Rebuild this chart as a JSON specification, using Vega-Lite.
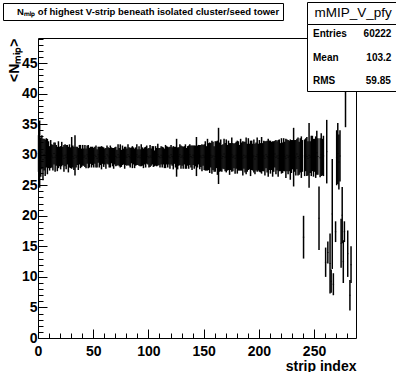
{
  "$schema": "https://vega.github.io/schema/vega-lite/v6.json",
  "width": 318,
  "height": 300,
  "autosize": {"type": "none"},
  "padding": {"left": 38, "top": 38, "right": 40, "bottom": 34},
  "background": "white",
  "config": {"view": {"stroke": "black", "strokeWidth": 1}},
  "datasets": {
    "prof": [
      {"x":0.5,"y":30.2,"e":3.0},{"x":1.5,"y":30.1,"e":5.5},{"x":2.5,"y":29.6,"e":3.2},{"x":3.5,"y":30.4,"e":2.8},{"x":4.5,"y":29.2,"e":3.4},
      {"x":5.5,"y":30.0,"e":2.6},{"x":6.5,"y":29.5,"e":3.0},{"x":7.5,"y":30.3,"e":2.4},{"x":8.5,"y":29.7,"e":2.9},{"x":9.5,"y":30.0,"e":2.2},
      {"x":10.5,"y":29.4,"e":2.0},{"x":11.5,"y":30.1,"e":2.3},{"x":12.5,"y":29.8,"e":1.9},{"x":13.5,"y":29.5,"e":2.1},{"x":14.5,"y":30.2,"e":1.8},
      {"x":15.5,"y":29.6,"e":2.4},{"x":16.5,"y":29.9,"e":1.7},{"x":17.5,"y":29.3,"e":2.0},{"x":18.5,"y":30.0,"e":2.2},{"x":19.5,"y":29.7,"e":1.6},
      {"x":20.5,"y":29.5,"e":1.9},{"x":21.5,"y":30.1,"e":2.0},{"x":22.5,"y":29.8,"e":1.5},{"x":23.5,"y":29.4,"e":2.2},{"x":24.5,"y":29.9,"e":1.8},
      {"x":25.5,"y":29.6,"e":2.0},{"x":26.5,"y":30.0,"e":1.6},{"x":27.5,"y":29.2,"e":2.1},{"x":28.5,"y":29.8,"e":1.9},{"x":29.5,"y":29.5,"e":1.7},
      {"x":30.5,"y":30.3,"e":2.6},{"x":31.5,"y":29.7,"e":1.8},{"x":32.5,"y":29.4,"e":1.9},{"x":33.5,"y":29.9,"e":3.3},{"x":34.5,"y":29.6,"e":1.7},
      {"x":35.5,"y":29.8,"e":1.5},{"x":36.5,"y":29.3,"e":1.8},{"x":37.5,"y":30.0,"e":1.6},{"x":38.5,"y":29.7,"e":1.9},{"x":39.5,"y":29.5,"e":1.5},
      {"x":40.5,"y":29.9,"e":1.7},{"x":41.5,"y":29.6,"e":1.4},{"x":42.5,"y":29.8,"e":1.8},{"x":43.5,"y":29.4,"e":1.6},{"x":44.5,"y":30.0,"e":1.5},
      {"x":45.5,"y":29.7,"e":1.9},{"x":46.5,"y":29.5,"e":1.6},{"x":47.5,"y":29.9,"e":1.4},{"x":48.5,"y":29.6,"e":1.7},{"x":49.5,"y":29.8,"e":1.5},
      {"x":50.5,"y":29.5,"e":1.6},{"x":51.5,"y":29.9,"e":1.4},{"x":52.5,"y":29.7,"e":1.8},{"x":53.5,"y":29.4,"e":1.5},{"x":54.5,"y":30.0,"e":1.3},
      {"x":55.5,"y":29.6,"e":1.7},{"x":56.5,"y":29.8,"e":1.5},{"x":57.5,"y":29.5,"e":1.9},{"x":58.5,"y":29.9,"e":1.4},{"x":59.5,"y":29.6,"e":1.6},
      {"x":60.5,"y":29.7,"e":1.3},{"x":61.5,"y":29.4,"e":1.7},{"x":62.5,"y":30.0,"e":1.5},{"x":63.5,"y":29.8,"e":1.4},{"x":64.5,"y":29.5,"e":1.6},
      {"x":65.5,"y":29.7,"e":1.8},{"x":66.5,"y":29.9,"e":1.3},{"x":67.5,"y":29.6,"e":1.5},{"x":68.5,"y":29.4,"e":1.7},{"x":69.5,"y":29.8,"e":1.4},
      {"x":70.5,"y":29.7,"e":1.6},{"x":71.5,"y":29.5,"e":1.3},{"x":72.5,"y":30.0,"e":1.7},{"x":73.5,"y":29.6,"e":1.5},{"x":74.5,"y":29.8,"e":1.9},
      {"x":75.5,"y":29.4,"e":1.4},{"x":76.5,"y":29.9,"e":1.6},{"x":77.5,"y":29.7,"e":1.3},{"x":78.5,"y":29.5,"e":1.8},{"x":79.5,"y":29.8,"e":1.5},
      {"x":80.5,"y":29.6,"e":1.4},{"x":81.5,"y":30.0,"e":1.7},{"x":82.5,"y":29.7,"e":1.5},{"x":83.5,"y":29.5,"e":1.6},{"x":84.5,"y":29.9,"e":1.3},
      {"x":85.5,"y":29.6,"e":1.8},{"x":86.5,"y":29.8,"e":1.4},{"x":87.5,"y":29.4,"e":1.6},{"x":88.5,"y":29.7,"e":1.5},{"x":89.5,"y":30.0,"e":1.7},
      {"x":90.5,"y":29.6,"e":1.3},{"x":91.5,"y":29.8,"e":1.6},{"x":92.5,"y":29.5,"e":1.4},{"x":93.5,"y":29.9,"e":1.8},{"x":94.5,"y":29.7,"e":1.5},
      {"x":95.5,"y":29.4,"e":1.6},{"x":96.5,"y":29.8,"e":1.4},{"x":97.5,"y":29.6,"e":1.7},{"x":98.5,"y":30.0,"e":1.5},{"x":99.5,"y":29.7,"e":1.3},
      {"x":100.5,"y":29.5,"e":1.6},{"x":101.5,"y":29.8,"e":1.8},{"x":102.5,"y":29.6,"e":1.4},{"x":103.5,"y":29.9,"e":1.5},{"x":104.5,"y":29.7,"e":1.7},
      {"x":105.5,"y":29.4,"e":1.3},{"x":106.5,"y":29.8,"e":1.6},{"x":107.5,"y":29.6,"e":1.5},{"x":108.5,"y":30.0,"e":1.8},{"x":109.5,"y":29.7,"e":1.4},
      {"x":110.5,"y":29.5,"e":1.6},{"x":111.5,"y":29.9,"e":1.5},{"x":112.5,"y":29.6,"e":1.7},{"x":113.5,"y":29.8,"e":1.4},{"x":114.5,"y":29.4,"e":1.6},
      {"x":115.5,"y":29.7,"e":1.9},{"x":116.5,"y":29.9,"e":1.5},{"x":117.5,"y":29.6,"e":1.7},{"x":118.5,"y":29.8,"e":1.4},{"x":119.5,"y":29.5,"e":1.8},
      {"x":120.5,"y":30.0,"e":1.6},{"x":121.5,"y":29.7,"e":1.5},{"x":122.5,"y":29.5,"e":1.9},{"x":123.5,"y":29.9,"e":1.4},{"x":124.5,"y":29.6,"e":1.7},
      {"x":125.5,"y":29.5,"e":3.1},{"x":126.5,"y":29.4,"e":1.8},{"x":127.5,"y":29.7,"e":1.5},{"x":128.5,"y":30.0,"e":1.7},{"x":129.5,"y":29.6,"e":1.9},
      {"x":130.5,"y":29.8,"e":1.6},{"x":131.5,"y":29.5,"e":1.8},{"x":132.5,"y":29.9,"e":1.5},{"x":133.5,"y":29.7,"e":2.0},{"x":134.5,"y":29.4,"e":1.7},
      {"x":135.5,"y":29.8,"e":1.6},{"x":136.5,"y":29.6,"e":1.9},{"x":137.5,"y":30.0,"e":1.7},{"x":138.5,"y":29.7,"e":1.8},{"x":139.5,"y":29.5,"e":2.0},
      {"x":140.5,"y":29.9,"e":1.6},{"x":141.5,"y":29.6,"e":1.9},{"x":142.5,"y":29.8,"e":1.7},{"x":143.5,"y":29.7,"e":3.2},{"x":144.5,"y":29.7,"e":1.8},
      {"x":145.5,"y":30.0,"e":1.6},{"x":146.5,"y":29.6,"e":2.0},{"x":147.5,"y":29.8,"e":1.8},{"x":148.5,"y":29.5,"e":2.2},{"x":149.5,"y":29.9,"e":1.7},
      {"x":150.5,"y":29.6,"e":2.1},{"x":151.5,"y":29.8,"e":2.4},{"x":152.5,"y":29.4,"e":2.0},{"x":153.5,"y":30.0,"e":2.6},{"x":154.5,"y":29.7,"e":2.2},
      {"x":155.5,"y":29.5,"e":2.5},{"x":156.5,"y":29.9,"e":2.0},{"x":157.5,"y":29.6,"e":2.7},{"x":158.5,"y":29.8,"e":2.3},{"x":159.5,"y":29.3,"e":2.1},
      {"x":160.5,"y":29.7,"e":2.5},{"x":161.5,"y":30.0,"e":2.2},{"x":162.5,"y":29.5,"e":2.8},{"x":163.5,"y":29.8,"e":4.6},{"x":164.5,"y":29.6,"e":2.4},
      {"x":165.5,"y":29.9,"e":2.6},{"x":166.5,"y":29.4,"e":2.2},{"x":167.5,"y":29.7,"e":2.0},{"x":168.5,"y":30.1,"e":2.5},{"x":169.5,"y":29.6,"e":2.3},
      {"x":170.5,"y":29.8,"e":2.7},{"x":171.5,"y":29.5,"e":2.1},{"x":172.5,"y":29.9,"e":2.4},{"x":173.5,"y":29.3,"e":2.6},{"x":174.5,"y":29.7,"e":2.2},
      {"x":175.5,"y":30.0,"e":2.8},{"x":176.5,"y":29.6,"e":2.3},{"x":177.5,"y":29.8,"e":2.0},{"x":178.5,"y":29.4,"e":2.5},{"x":179.5,"y":29.9,"e":2.2},
      {"x":180.5,"y":29.6,"e":2.7},{"x":181.5,"y":29.8,"e":2.4},{"x":182.5,"y":29.5,"e":2.1},{"x":183.5,"y":30.0,"e":2.6},{"x":184.5,"y":29.7,"e":2.3},
      {"x":185.5,"y":29.4,"e":2.8},{"x":186.5,"y":29.9,"e":2.2},{"x":187.5,"y":29.6,"e":2.5},{"x":188.5,"y":29.8,"e":3.0},{"x":189.5,"y":29.5,"e":2.3},
      {"x":190.5,"y":30.1,"e":2.6},{"x":191.5,"y":29.7,"e":2.1},{"x":192.5,"y":29.4,"e":2.9},{"x":193.5,"y":29.9,"e":2.4},{"x":194.5,"y":29.6,"e":2.2},
      {"x":195.5,"y":29.8,"e":2.7},{"x":196.5,"y":29.3,"e":2.5},{"x":197.5,"y":29.7,"e":2.3},{"x":198.5,"y":30.0,"e":2.8},{"x":199.5,"y":29.6,"e":2.2},
      {"x":200.5,"y":29.8,"e":2.6},{"x":201.5,"y":29.5,"e":2.4},{"x":202.5,"y":29.9,"e":3.0},{"x":203.5,"y":29.6,"e":2.3},{"x":204.5,"y":29.8,"e":2.5},
      {"x":205.5,"y":29.4,"e":2.8},{"x":206.5,"y":30.0,"e":2.2},{"x":207.5,"y":29.7,"e":2.6},{"x":208.5,"y":29.5,"e":3.1},{"x":209.5,"y":29.9,"e":2.4},
      {"x":210.5,"y":29.6,"e":2.7},{"x":211.5,"y":29.8,"e":2.3},{"x":212.5,"y":29.3,"e":2.9},{"x":213.5,"y":29.7,"e":2.5},{"x":214.5,"y":30.1,"e":2.2},
      {"x":215.5,"y":29.6,"e":2.8},{"x":216.5,"y":29.8,"e":2.4},{"x":217.5,"y":29.4,"e":3.0},{"x":218.5,"y":29.9,"e":2.6},{"x":219.5,"y":29.6,"e":2.3},
      {"x":220.5,"y":29.8,"e":2.9},{"x":221.5,"y":29.5,"e":2.5},{"x":222.5,"y":30.0,"e":2.7},{"x":223.5,"y":29.7,"e":2.4},{"x":224.5,"y":29.4,"e":3.2},
      {"x":225.5,"y":29.9,"e":2.6},{"x":226.5,"y":29.6,"e":2.8},{"x":227.5,"y":29.8,"e":2.5},{"x":228.5,"y":29.2,"e":3.3},{"x":229.5,"y":29.7,"e":2.7},
      {"x":230.5,"y":30.0,"e":2.4},{"x":231.5,"y":29.6,"e":4.8},{"x":232.5,"y":29.8,"e":2.6},{"x":233.5,"y":29.5,"e":2.9},{"x":234.5,"y":30.1,"e":2.5},
      {"x":235.5,"y":29.7,"e":3.1},{"x":236.5,"y":29.4,"e":2.7},{"x":237.5,"y":29.9,"e":2.8},{"x":238.5,"y":29.6,"e":3.4},{"x":239.5,"y":29.8,"e":2.6},
      {"x":240.5,"y":16.5,"e":3.5},{"x":241.5,"y":29.5,"e":3.0},{"x":242.5,"y":30.0,"e":2.7},{"x":243.5,"y":29.7,"e":3.2},{"x":244.5,"y":29.4,"e":2.8},
      {"x":245.5,"y":29.9,"e":5.3},{"x":246.5,"y":29.6,"e":2.6},{"x":247.5,"y":29.8,"e":3.3},{"x":248.5,"y":30.2,"e":2.9},{"x":249.5,"y":29.5,"e":3.1},
      {"x":250.5,"y":29.9,"e":2.7},{"x":251.5,"y":29.6,"e":3.4},{"x":252.5,"y":30.3,"e":3.6},{"x":253.5,"y":29.7,"e":3.0},{"x":254.5,"y":19.6,"e":5.2},
      {"x":255.5,"y":29.5,"e":3.2},{"x":256.5,"y":30.0,"e":3.5},{"x":257.5,"y":29.6,"e":3.0},{"x":258.5,"y":29.8,"e":3.3},
      {"x":260.5,"y":12.4,"e":2.4},{"x":261.5,"y":30.5,"e":5.2},{"x":262.5,"y":14.0,"e":1.8},{"x":264.5,"y":12.2,"e":4.9},
      {"x":265.5,"y":9.3,"e":1.9},{"x":266.5,"y":20.3,"e":9.0},{"x":267.5,"y":8.8,"e":1.8},{"x":269.5,"y":17.4,"e":1.7},
      {"x":270.5,"y":29.5,"e":4.5},{"x":271.5,"y":30.2,"e":5.0},{"x":272.5,"y":28.8,"e":4.5},{"x":273.5,"y":29.8,"e":4.2},
      {"x":274.5,"y":15.5,"e":4.0},{"x":275.5,"y":20.1,"e":4.6},{"x":276.5,"y":12.5,"e":3.5},{"x":277.5,"y":17.4,"e":1.7},
      {"x":278.5,"y":40.5,"e":6.0},{"x":280.5,"y":13.8,"e":3.8},{"x":282.5,"y":7.0,"e":2.5},{"x":283.5,"y":12.0,"e":3.0}
    ]
  },
  "layer": [
    {
      "data": {"name": "prof"},
      "mark": {"type": "errorbar", "ticks": false, "color": "black", "thickness": 1.5},
      "encoding": {
        "x": {"field": "x", "type": "quantitative", "title": "strip index"},
        "y": {"field": "y", "type": "quantitative", "title": "<Nₘᵢₚ>"},
        "yError": {"field": "e"}
      }
    },
    {
      "data": {"name": "prof"},
      "mark": {"type": "tick", "orient": "horizontal", "size": 1.5, "thickness": 1, "color": "black"},
      "encoding": {
        "x": {
          "field": "x", "type": "quantitative", "title": "strip index",
          "scale": {"domain": [0, 288], "nice": false, "zero": false},
          "axis": {
            "values": [0,10,20,30,40,50,60,70,80,90,100,110,120,130,140,150,160,170,180,190,200,210,220,230,240,250,260,270,280],
            "tickCount": 100, "format": "d",
            "labelExpr": "datum.value % 50 === 0 ? datum.label : ''",
            "tickSize": {"condition": {"test": "datum.value % 50 === 0", "value": -9}, "value": -5},
            "tickColor": "black", "domain": false, "grid": false,
            "labelFont": "Liberation Sans", "labelFontWeight": "bold", "labelFontSize": 14, "labelColor": "black",
            "labelPadding": 15, "labelBaseline": "top", "labelAlign": "center",
            "labelOverlap": false, "labelFlush": false, "labelBound": false,
            "titleFont": "Liberation Sans", "titleFontWeight": "bold", "titleFontSize": 14,
            "titleColor": "black", "titleAnchor": "end", "titleBaseline": "alphabetic", "titleY": 32
          }
        },
        "y": {
          "field": "y", "type": "quantitative", "title": "<Nₘᵢₚ>",
          "scale": {"domain": [0, 49.1], "nice": false, "zero": false},
          "axis": {
            "values": [0,1,2,3,4,5,6,7,8,9,10,11,12,13,14,15,16,17,18,19,20,21,22,23,24,25,26,27,28,29,30,31,32,33,34,35,36,37,38,39,40,41,42,43,44,45,46,47,48,49],
            "tickCount": 100, "format": "d",
            "labelExpr": "datum.value % 5 === 0 ? datum.label : ''",
            "tickSize": {"condition": {"test": "datum.value % 5 === 0", "value": -9}, "value": -5},
            "tickColor": "black", "domain": false, "grid": false,
            "labelFont": "Liberation Sans", "labelFontWeight": "bold", "labelFontSize": 14, "labelColor": "black",
            "labelPadding": 10, "labelAlign": "right", "labelBaseline": "middle",
            "labelOverlap": false, "labelFlush": false, "labelBound": false,
            "titleFont": "Liberation Sans", "titleFontWeight": "bold", "titleFontSize": 14,
            "titleColor": "black", "titleAnchor": "end", "titleAngle": -90, "titleAlign": "right",
            "titleBaseline": "alphabetic", "titleX": -20, "titleY": 0
          }
        }
      }
    },
    {
      "data": {"values": [{"t": "Nₘᵢₚ of highest V-strip beneath isolated cluster/seed tower"}]},
      "mark": {"type": "point", "opacity": 0},
      "encoding": {
        "fill": {
          "field": "t", "type": "nominal", "scale": {"range": ["black"]},
          "legend": {
            "orient": "none", "legendX": -35, "legendY": -35, "title": null,
            "strokeColor": "black", "fillColor": "white", "padding": 3,
            "symbolSize": 121, "symbolOpacity": 0, "symbolStrokeWidth": 0, "labelOffset": 0,
            "labelFont": "Liberation Sans", "labelFontWeight": "bold", "labelFontSize": 9.5,
            "labelColor": "black", "labelLimit": 400
          }
        }
      }
    },
    {
      "data": {"values": [{"h": "mMIP_V_pfy"}]},
      "mark": {"type": "point", "opacity": 0},
      "encoding": {
        "shape": {
          "field": "h", "type": "nominal",
          "legend": {
            "orient": "none", "legendX": 269, "legendY": -36, "title": null,
            "strokeColor": "black", "fillColor": "white", "padding": 4,
            "symbolSize": 1, "symbolOpacity": 0, "symbolStrokeWidth": 0, "labelOffset": -10,
            "labelFont": "Liberation Sans", "labelFontSize": 13.5, "labelColor": "black", "labelLimit": 200
          }
        }
      }
    },
    {
      "data": {"values": [
        {"s": "Entries\u00a0\u00a0\u00a0\u00a0\u00a0\u00a060222"},
        {"s": "Mean\u00a0\u00a0\u00a0\u00a0\u00a0\u00a0\u00a0\u00a0\u00a0\u00a0103.2"},
        {"s": "RMS\u00a0\u00a0\u00a0\u00a0\u00a0\u00a0\u00a0\u00a0\u00a0\u00a0\u00a059.85"}
      ]},
      "mark": {"type": "point", "opacity": 0},
      "encoding": {
        "color": {
          "field": "s", "type": "nominal",
          "scale": {"range": ["black", "black", "black"]},
          "legend": {
            "orient": "none", "legendX": 269, "legendY": -14, "title": null,
            "strokeColor": "black", "fillColor": "white", "padding": 5, "rowPadding": 13.5,
            "symbolSize": 1, "symbolOpacity": 0, "symbolStrokeWidth": 0, "labelOffset": -9,
            "labelFont": "Liberation Sans", "labelFontWeight": "bold", "labelFontSize": 10,
            "labelColor": "black", "labelLimit": 200
          }
        }
      }
    }
  ]
}
